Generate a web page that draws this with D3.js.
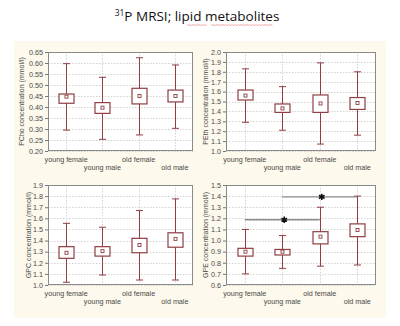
<!DOCTYPE html>
<html><head><meta charset="utf-8">
<script src="https://cdn.jsdelivr.net/npm/d3@7"></script>
<style>
html,body{margin:0;padding:0;background:#fff;}
svg{display:block;}
</style></head>
<body>
<script>
// ---------- data ----------
const categories = ["young female", "young male", "old female", "old male"];

const pchoMean  = [0.447, 0.397, 0.450, 0.450];
const pchoBoxLo = [0.417, 0.371, 0.414, 0.423];
const pchoBoxHi = [0.459, 0.420, 0.485, 0.477];
const pchoMin   = [0.295, 0.253, 0.273, 0.303];
const pchoMax   = [0.597, 0.535, 0.624, 0.591];
const pchoTicks = [0.20,0.25,0.30,0.35,0.40,0.45,0.50,0.55,0.60,0.65];

const pethMean  = [1.56, 1.43, 1.48, 1.485];
const pethBoxLo = [1.515, 1.39, 1.39, 1.42];
const pethBoxHi = [1.616, 1.475, 1.566, 1.54];
const pethMin   = [1.29, 1.21, 1.07, 1.16];
const pethMax   = [1.83, 1.65, 1.89, 1.80];
const pethTicks = [1.0,1.1,1.2,1.3,1.4,1.5,1.6,1.7,1.8,1.9,2.0];

const gpcMean  = [1.29, 1.305, 1.36, 1.415];
const gpcBoxLo = [1.24, 1.26, 1.29, 1.34];
const gpcBoxHi = [1.345, 1.345, 1.42, 1.47];
const gpcMin   = [1.025, 1.09, 1.045, 1.045];
const gpcMax   = [1.555, 1.52, 1.67, 1.775];
const gpcTicks = [1.0,1.1,1.2,1.3,1.4,1.5,1.6,1.7,1.8,1.9];

const gpeMean  = [0.90, 0.90, 1.035, 1.095];
const gpeBoxLo = [0.86, 0.87, 0.97, 1.035];
const gpeBoxHi = [0.93, 0.92, 1.08, 1.15];
const gpeMin   = [0.70, 0.75, 0.77, 0.78];
const gpeMax   = [1.10, 1.045, 1.30, 1.40];
const gpeTicks = [0.6,0.7,0.8,0.9,1.0,1.1,1.2,1.3,1.4,1.5];

// significance brackets for GPE: [from category, to category, level, star at category]
const gpeSigFrom  = ["young female", "young male"];
const gpeSigTo    = ["old female", "old male"];
const gpeSigLevel = [1.187, 1.393];
const gpeSigStar  = ["young male", "old female"];

// ---------- drawing ----------
const W = 400, H = 326;
const svg = d3.select("body").append("svg").attr("width", W).attr("height", H);

const CREAM = "#fdf9ec", BOXC = "#8f3e42", GRID = "#c8c8c8", TXT = "#4a4a4a";
const FONT = "'Liberation Sans', Arial, sans-serif";

svg.append("rect").attr("x", 14).attr("y", 41).attr("width", 372).attr("height", 277).attr("fill", CREAM);

// title
const title = svg.append("text").attr("x", 197).attr("y", 21).attr("text-anchor", "middle")
  .attr("font-family", "'Open Sans', 'Noto Sans', sans-serif").attr("font-size", 13.5).attr("fill", "#111");
title.append("tspan").text("31").attr("font-size", 8.5).attr("dy", -5);
title.append("tspan").text("P MRSI; ").attr("dy", 5);
title.append("tspan").text("lipid metabolites");
// spell-check style wavy underline
(function(){
  const x0 = 187, x1 = 274, y = 24.5;
  const pts = d3.range(x0, x1, 1.5).map((x, i) => [x, y + (i % 2 ? 1 : 0)]);
  svg.append("path").attr("d", d3.line()(pts.slice(0, 14))).attr("fill", "none").attr("stroke", "#e07070").attr("stroke-width", 0.6);
  svg.append("path").attr("d", d3.line()(pts.slice(16))).attr("fill", "none").attr("stroke", "#e07070").attr("stroke-width", 0.6);
})();

const panels = [
  {l:48,  r:193, t:52,  b:151, dom:[0.20,0.65], ticks:pchoTicks, fmt:".2f", label:"PCho concentration (mmol/l)", lx:22,
   mean:pchoMean, lo:pchoBoxLo, hi:pchoBoxHi, mn:pchoMin, mx:pchoMax},
  {l:226, r:376, t:52,  b:151, dom:[1.0,2.0], ticks:pethTicks, fmt:".1f", label:"PEth concentration (mmol/l)", lx:206,
   mean:pethMean, lo:pethBoxLo, hi:pethBoxHi, mn:pethMin, mx:pethMax},
  {l:48,  r:193, t:185, b:285, dom:[1.0,1.9], ticks:gpcTicks, fmt:".1f", label:"GPC concentration (mmol/l)", lx:29,
   mean:gpcMean, lo:gpcBoxLo, hi:gpcBoxHi, mn:gpcMin, mx:gpcMax},
  {l:226, r:376, t:185, b:285, dom:[0.6,1.5], ticks:gpeTicks, fmt:".1f", label:"GPE concentration (mmol/l)", lx:206,
   mean:gpeMean, lo:gpeBoxLo, hi:gpeBoxHi, mn:gpeMin, mx:gpeMax, sig:true}
];

panels.forEach(p => {
  const g = svg.append("g");
  const x = d3.scaleBand().domain(categories).range([p.l, p.r]);
  const cx = c => x(c) + x.bandwidth() / 2;
  const y = d3.scaleLinear().domain(p.dom).range([p.b, p.t]);

  g.append("rect").attr("x", p.l).attr("y", p.t).attr("width", p.r - p.l).attr("height", p.b - p.t).attr("fill", "#fff");

  // grid
  g.selectAll(".hg").data(p.ticks).join("line")
    .attr("x1", p.l).attr("x2", p.r).attr("y1", d => Math.round(y(d)) + 0.5).attr("y2", d => Math.round(y(d)) + 0.5)
    .attr("stroke", GRID).attr("stroke-width", 0.8).attr("stroke-dasharray", "1.5,1.5");
  g.selectAll(".vg").data(categories).join("line")
    .attr("x1", d => Math.round(cx(d)) + 0.5).attr("x2", d => Math.round(cx(d)) + 0.5).attr("y1", p.t).attr("y2", p.b)
    .attr("stroke", GRID).attr("stroke-width", 0.8).attr("stroke-dasharray", "1.5,1.5");

  // y axis
  const ya = d3.axisLeft(y).tickValues(p.ticks).tickFormat(d3.format(p.fmt)).tickSize(3).tickPadding(2);
  const ag = g.append("g").attr("transform", `translate(${p.l},0)`).call(ya);
  ag.select(".domain").remove();
  ag.selectAll("line").attr("stroke", "#777");
  ag.selectAll("text").attr("font-family", FONT).attr("font-size", 7.2).attr("fill", TXT);

  // x axis labels (staggered)
  const xa = d3.axisBottom(x).tickSize(0).tickPadding(0);
  const xg = g.append("g").attr("transform", `translate(0,${p.b})`).call(xa);
  xg.select(".domain").remove();
  xg.selectAll("text").attr("font-family", FONT).attr("font-size", 7.2).attr("fill", TXT)
    .attr("dy", null).attr("y", (d, i) => i % 2 ? 19 : 10.5);

  // y label
  g.append("text").attr("transform", `translate(${p.lx},${(p.t + p.b) / 2}) rotate(-90)`)
    .attr("text-anchor", "middle").attr("dy", "0.35em")
    .attr("font-family", FONT).attr("font-size", 7).attr("fill", TXT).text(p.label);

  // border
  g.append("rect").attr("x", p.l + 0.5).attr("y", p.t + 0.5).attr("width", p.r - p.l - 1).attr("height", p.b - p.t - 1)
    .attr("fill", "none").attr("stroke", "#8a8a8a").attr("stroke-width", 1);

  // boxes
  const bw = 15, cw = 7;
  categories.forEach((c, i) => {
    const xc = Math.round(cx(c)) + 0.5;
    g.append("line").attr("x1", xc).attr("x2", xc).attr("y1", y(p.mx[i])).attr("y2", y(p.hi[i]))
      .attr("stroke", BOXC).attr("stroke-width", 1);
    g.append("line").attr("x1", xc).attr("x2", xc).attr("y1", y(p.lo[i])).attr("y2", y(p.mn[i]))
      .attr("stroke", BOXC).attr("stroke-width", 1);
    [p.mx[i], p.mn[i]].forEach(v => {
      g.append("line").attr("x1", xc - cw / 2).attr("x2", xc + cw / 2).attr("y1", y(v)).attr("y2", y(v))
        .attr("stroke", BOXC).attr("stroke-width", 1);
    });
    g.append("rect").attr("x", xc - bw / 2).attr("y", y(p.hi[i])).attr("width", bw).attr("height", y(p.lo[i]) - y(p.hi[i]))
      .attr("fill", "#fff").attr("stroke", BOXC).attr("stroke-width", 1.2);
    g.append("rect").attr("x", xc - 1.5).attr("y", y(p.mean[i]) - 1.5).attr("width", 3).attr("height", 3)
      .attr("fill", "#fff").attr("stroke", BOXC).attr("stroke-width", 0.9);
  });

  if (p.sig) {
    gpeSigLevel.forEach((lv, i) => {
      g.append("line").attr("x1", cx(gpeSigFrom[i])).attr("x2", cx(gpeSigTo[i])).attr("y1", y(lv)).attr("y2", y(lv))
        .attr("stroke", "#8c8c8c").attr("stroke-width", 1.4);
      g.append("path").attr("d", d3.symbol(d3.symbolAsterisk, 28)())
        .attr("transform", `translate(${cx(gpeSigStar[i]) + 2},${y(lv)})`)
        .attr("fill", "none").attr("stroke", "#111").attr("stroke-width", 1.6);
    });
  }
});
</script>
</body></html>
